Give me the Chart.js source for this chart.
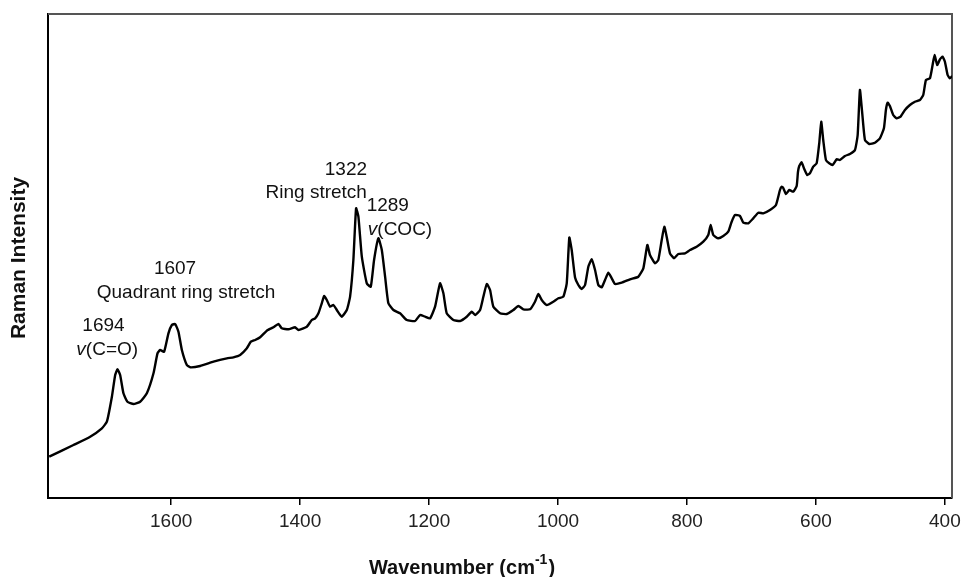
<!DOCTYPE html>
<html><head><meta charset="utf-8">
<script src="https://cdn.jsdelivr.net/npm/chart.js@4/dist/chart.umd.min.js"></script>
<style>html,body{margin:0;padding:0;background:#fff;}#wrap{width:963px;height:577px;}</style>
</head><body><div id="wrap"><canvas id="c" width="963" height="577"></canvas></div>
<script>
const wavenumbers = [1789.1,1751.5,1725.6,1707.4,1699.7,1691.9,1686.8,1683.3,1679.1,1674,1667.8,1658.5,1648.1,1637.7,1627.4,1621.2,1617.1,1610.9,1604.2,1598.9,1593.8,1588.7,1583.4,1575.7,1570.5,1555,1534.4,1513.6,1503.4,1493,1482.6,1476.4,1469.8,1462,1451.6,1441.4,1433.6,1428.4,1418.1,1407.8,1402.6,1389.6,1381.9,1376.7,1371.6,1366.4,1362.8,1358.6,1353.5,1348.4,1343.1,1335.4,1327.6,1322.5,1317.4,1313.2,1309.6,1304.3,1296.6,1290.4,1285.3,1278.6,1273.3,1268.2,1263.1,1255.3,1245,1234.6,1221.7,1214,1206.2,1198.4,1190.7,1183,1177.8,1172.6,1162.3,1151.9,1141.6,1133.8,1128.7,1120.9,1115.8,1110.5,1105.4,1100.3,1089.9,1079.5,1069.3,1061.5,1053.8,1043.4,1035.7,1030.5,1025.3,1017.5,1007.3,999.5,991.8,986.5,982.5,978.8,973.6,968.5,963.3,958.1,953,947.7,942.6,937.5,932.2,927.1,922,916.7,911.6,901.2,888.4,875.5,867.7,861.5,857.4,849.6,844.5,839.2,835.2,831.5,826.4,820.1,813.5,803.1,795.3,785,774.7,767,763.3,759.2,751.5,743.7,736,730.7,725.6,717.8,712.7,705,697.2,689.4,681.7,671.3,662,655.8,653.2,650.7,646.5,641.4,635.2,629.9,627.9,625.9,622.2,618.6,613.5,609.3,604.2,598.9,594.9,591.8,588.7,584.5,579.4,574.1,567.9,562.8,555,547.3,539.5,535.3,531.8,528.2,524,517.4,508.5,500.8,494.6,491.5,488.8,485.3,480.2,474.9,468.7,462,454.3,446.5,438.8,433.6,429.4,423.2,419.1,416,412,407.7,403.6,400,395.8,392.2,388.7];
const intensities = [41.3,53,61.3,69.7,76.3,101.3,123,128.7,123,104.7,96.3,94,96.3,104.7,124.7,144.7,148,146.3,164.7,173,174,166.3,148,133,130.7,132,136.3,139.7,140.7,143,149.7,156.3,158,160.7,167.3,170.7,174,169.7,168.7,170.7,168,171.3,178,179.7,184.7,194.7,202,198,191.3,193,188,181.3,188,201.3,238,289.7,281.3,241.3,214.7,211.3,238,259.7,248,221.3,194.7,188,184.7,178,177,183,181.3,179.7,191.3,214.7,204.7,184.7,178,177,181.3,186.3,183,188,201.3,214,208,191.3,184.7,184,188,192,188.7,188.7,196.3,204,198,193,196.3,199.7,201.3,214.7,260.5,248,220.5,213,209,213,231.3,238.7,228,213,210.7,218,225.3,219.7,214,215.3,218.7,221.3,229.7,253,243,234.7,238,258,271.3,261.3,244.7,239.7,244,244.7,248,251.3,256.3,263,273,263,259.7,262,266.3,276.3,283,282,275.3,274.7,279.7,285.3,284.7,288,293,308,311.3,310,304,308,306.3,312,326,332,335.7,329.7,323,324.7,331.3,334.7,354.7,376.3,358,338,334.7,333,338.7,338,342,344,348,363,408,384.7,358,354,355.3,359.7,369.7,388,395.3,392,383,379.7,381.3,388,393,396.3,398,403,418,419.7,433,443,433,438.7,441.3,436.3,423,419.7,422];
const tickValues = [1600,1400,1200,1000,800,600,400];
const peakNumbers = ['1694','1607','1322','1289'];
const peakNames = ['(C=O)','Quadrant ring stretch','Ring stretch','(COC)'];
const xTitle = 'Wavenumber (cm';
const xTitleSup = '-1';
const yTitle = 'Raman Intensity';

const FONT = '"Liberation Sans", Arial, Helvetica, sans-serif';

const overlay = {
  id: 'overlay',
  beforeDatasetsDraw(chart) {
    const {ctx, chartArea: a} = chart;
    ctx.save();
    ctx.strokeStyle = '#555';
    ctx.lineWidth = 2;
    ctx.beginPath();
    ctx.moveTo(a.left, a.top);
    ctx.lineTo(a.right, a.top);
    ctx.lineTo(a.right, a.bottom);
    ctx.stroke();
    ctx.restore();
  },
  afterDraw(chart) {
    const {ctx} = chart;
    const xs = chart.scales.x, ys = chart.scales.y;
    const px = v => xs.getPixelForValue(v);
    const py = v => ys.getPixelForValue(v);
    ctx.save();
    ctx.fillStyle = '#111';
    ctx.textBaseline = 'middle';
    const reg = '19px ' + FONT;
    const ital = 'italic 19px ' + FONT;
    function center(str, w, i) {
      ctx.font = reg; ctx.textAlign = 'center';
      ctx.fillText(str, px(w), py(i));
    }
    function vLabel(str, w, i) {
      ctx.textAlign = 'left';
      let x = px(w);
      ctx.font = ital; ctx.fillText('v', x, py(i));
      x += ctx.measureText('v').width;
      ctx.font = reg; ctx.fillText(str, x, py(i));
    }
    center(peakNumbers[0], 1705, 172);
    vLabel(peakNames[0], 1747, 148);
    center(peakNumbers[1], 1594, 229);
    center(peakNames[1], 1577, 205);
    center(peakNumbers[2], 1329, 328);
    center(peakNames[2], 1375, 305);
    center(peakNumbers[3], 1264, 292);
    vLabel(peakNames[3], 1295, 268);

    // x title with superscript
    ctx.textAlign = 'left';
    ctx.textBaseline = 'alphabetic';
    ctx.fillStyle = '#111';
    const bold = 'bold 20px ' + FONT;
    const boldSm = 'bold 14px ' + FONT;
    ctx.font = bold; const w1 = ctx.measureText(xTitle).width; const w3 = ctx.measureText(')').width;
    ctx.font = boldSm; const w2 = ctx.measureText(xTitleSup).width;
    const total = w1 + w2 + 1 + w3;
    let x0 = 462 - total / 2;
    const base = 574;
    ctx.font = bold; ctx.fillText(xTitle, x0, base);
    ctx.font = boldSm; ctx.fillText(xTitleSup, x0 + w1, base - 10);
    ctx.font = bold; ctx.fillText(')', x0 + w1 + w2 + 1, base);

    // y title
    ctx.save();
    ctx.translate(19, 258);
    ctx.rotate(-Math.PI / 2);
    ctx.textAlign = 'center';
    ctx.textBaseline = 'middle';
    ctx.font = 'bold 21px ' + FONT;
    ctx.fillText(yTitle, 0, 0);
    ctx.restore();
    ctx.restore();
  }
};

new Chart(document.getElementById('c'), {
  type: 'line',
  data: {
    datasets: [{
      data: wavenumbers.map((w, i) => ({x: w, y: intensities[i]})),
      borderColor: '#000',
      borderWidth: 2.4,
      pointRadius: 0,
      tension: 0.15,
      fill: false
    }]
  },
  options: {
    responsive: false,
    animation: false,
    devicePixelRatio: 1,
    layout: {padding: {top: 14, right: 11, left: 0, bottom: 0}},
    plugins: {legend: {display: false}, tooltip: {enabled: false}},
    scales: {
      x: {
        type: 'linear',
        reverse: true,
        min: 389,
        max: 1791,
        afterBuildTicks: s => { s.ticks = tickValues.map(v => ({value: v})); },
        afterFit: s => { s.height = 79; s.paddingLeft = 0; s.paddingRight = 0; },
        border: {display: true, color: '#000', width: 2},
        grid: {display: true, drawOnChartArea: false, drawTicks: true, tickLength: 7, color: '#000', lineWidth: 1.5},
        ticks: {color: '#222', font: {family: FONT, size: 19}, padding: 5, maxRotation: 0, autoSkip: false,
                callback: v => String(v)}
      },
      y: {
        type: 'linear',
        min: 0,
        max: 484,
        afterFit: s => { s.width = 48; s.paddingTop = 0; s.paddingBottom = 0; },
        border: {display: true, color: '#000', width: 2},
        grid: {display: false},
        ticks: {display: false}
      }
    }
  },
  plugins: [overlay]
});
</script>
</body></html>
